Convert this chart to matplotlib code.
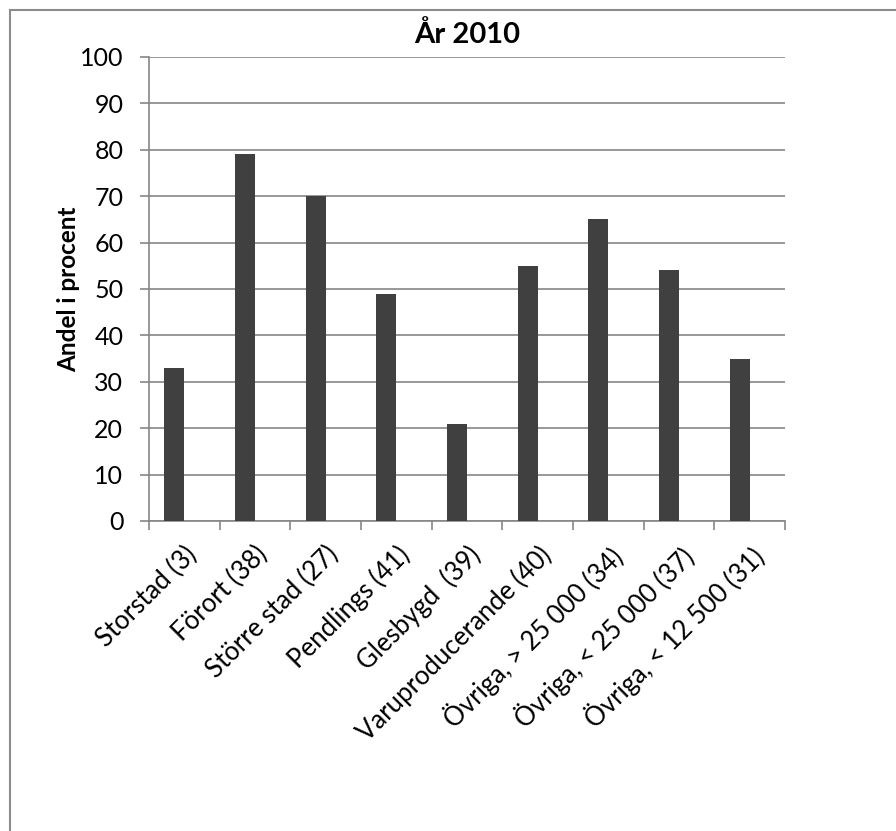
import matplotlib
matplotlib.use("Agg")
import matplotlib.pyplot as plt
from matplotlib.lines import Line2D
import numpy as np

categories = ["Storstad (3)", "Förort (38)", "Större stad (27)", "Pendlings (41)",
              "Glesbygd  (39)", "Varuproducerande (40)", "Övriga, > 25 000 (34)",
              "Övriga, < 25 000 (37)", "Övriga, < 12 500 (31)"]
values = [33, 79, 70, 49, 21, 55, 65, 54, 35]
yticks = [0, 10, 20, 30, 40, 50, 60, 70, 80, 90, 100]
title = "År 2010"
ylabel = "Andel i procent"

plt.rcParams['font.family'] = ['Lato', 'DejaVu Sans']
W, H = 896, 831
fig = plt.figure(figsize=(W / 100, H / 100), dpi=100)
ax = fig.add_axes([149 / W, 1 - 521 / H, (785 - 149) / W, (521 - 57) / H])

gray = '#868686'
x = np.arange(len(categories))
bw = 0.285
ax.bar(x, values, width=-bw, align='edge', color='#404040', zorder=3)

ax.set_xlim(-0.5, len(categories) - 0.5)
ax.set_ylim(0, 100)
ax.set_yticks(yticks)
ax.set_yticklabels([str(v) for v in yticks], fontsize=18)
ax.yaxis.grid(True, color=gray, lw=1.2, zorder=0)
ax.set_axisbelow(True)

ax.set_xticks(x)
ax.set_xticklabels(categories, rotation=45, ha='right', rotation_mode='anchor', fontsize=18.5)
ax.tick_params(axis='x', which='major', length=0, pad=15)
ax.set_xticks(np.arange(len(categories) + 1) - 0.5, minor=True)
ax.tick_params(axis='x', which='minor', length=6.5, width=1.2, color=gray, direction='out')
ax.tick_params(axis='y', length=6.5, width=1.2, color=gray, direction='out', pad=12)

for s in ['top', 'right']:
    ax.spines[s].set_visible(False)
for s in ['left', 'bottom']:
    ax.spines[s].set_color(gray)
    ax.spines[s].set_linewidth(1.2)

ax.set_title(title, fontsize=21, fontweight='bold', pad=10)
ax.set_ylabel(ylabel, fontsize=17.5, fontweight='bold', labelpad=0)

# outer chart border
fig.add_artist(Line2D([10 / W, 1.0], [1 - 9.5 / H, 1 - 9.5 / H], color='#8c8c8c', lw=1.5))
fig.add_artist(Line2D([10 / W, 10 / W], [1 - 9.5 / H, 0.0], color='#8c8c8c', lw=1.5))

fig.savefig("out.png", dpi=100)
